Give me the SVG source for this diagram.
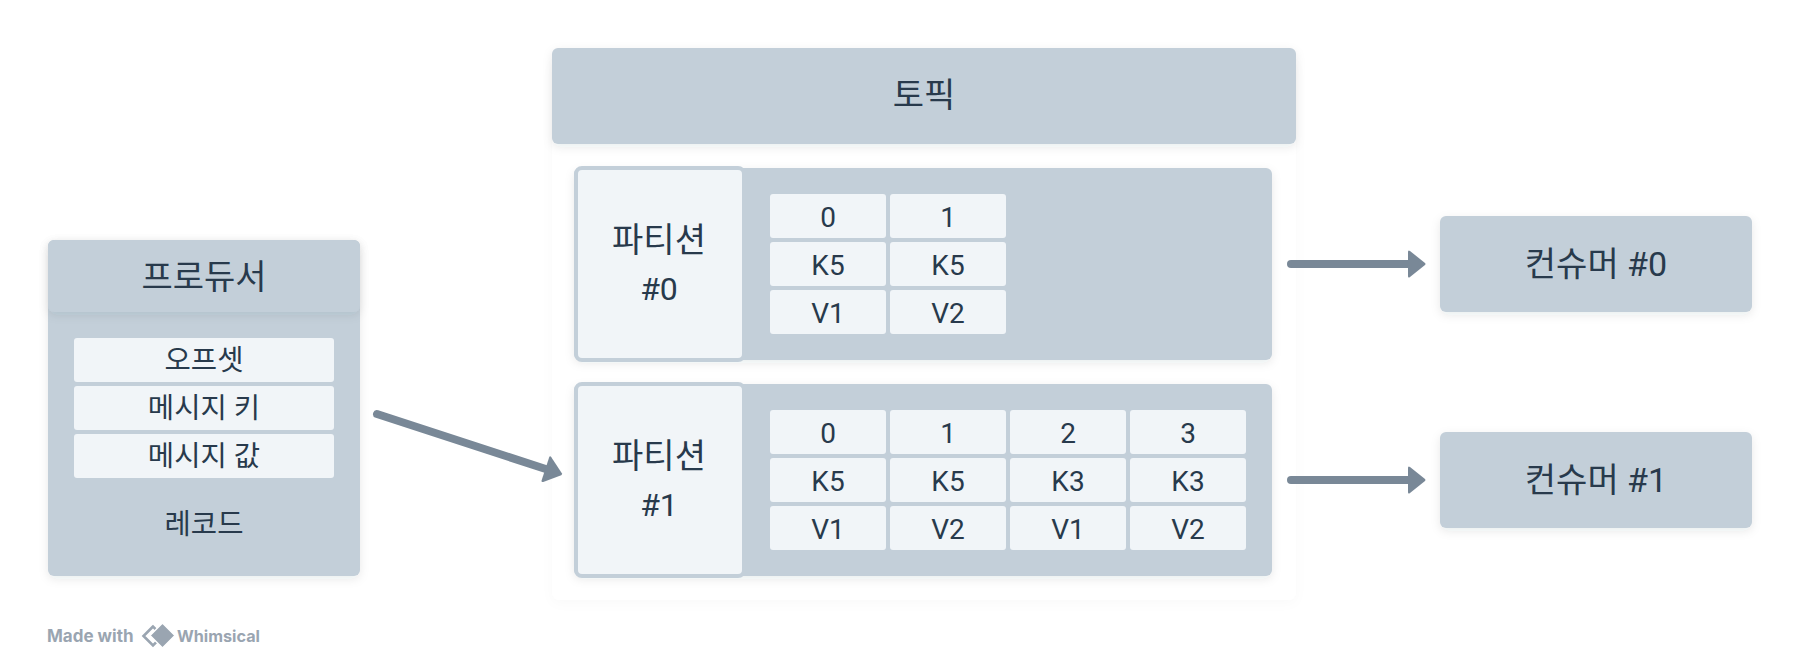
<svg xmlns="http://www.w3.org/2000/svg" width="1800" height="672" viewBox="0 0 1800 672">
<defs>
<filter id="sh" x="-10%" y="-20%" width="120%" height="140%"><feDropShadow dx="0" dy="3" stdDeviation="5" flood-color="#1f2933" flood-opacity="0.09"/></filter>
<filter id="shf" x="-10%" y="-10%" width="120%" height="120%"><feDropShadow dx="0" dy="3" stdDeviation="6" flood-color="#1f2933" flood-opacity="0.025"/></filter>
<path id="head" d="M-18 -12 Q-18 -14.500 -16 -13 L-1 -1 Q0 0 -1 1 L-16 13 Q-18 14.500 -18 12Z" fill="#798897"/>
</defs>
<style>
text{font-family:Roboto,"Noto Sans CJK KR",sans-serif;fill:#283A4C;text-anchor:middle;dominant-baseline:central}
.p{fill:#C3CFD9}.l{fill:#F1F5F8}
.b{font-size:34px}.k{font-size:28.600px}.s{font-size:28px}.n{font-size:32px}
.c{fill:none;stroke:#798897;stroke-width:8;stroke-linecap:round}
.f{font-family:Inter,sans-serif;font-weight:700;fill:#9AA5B1;text-anchor:start}
</style>
<rect width="1800" height="672" fill="#fff"/>
<g id="topic-frame"><rect x="552" y="60" width="744" height="540" rx="8" fill="#fff" filter="url(#shf)"/></g>
<g id="topic"><rect class="p" x="552" y="48" width="744" height="96" rx="6" filter="url(#sh)"/><text class="b" x="924" y="95">토픽</text></g>
<g id="producer">
<rect class="p" x="48" y="240" width="312" height="336" rx="6" filter="url(#sh)"/>
<rect class="p" x="48" y="240" width="312" height="72" rx="6" filter="url(#sh)"/>
<text class="b" x="204" y="276.500">프로듀서</text>
<rect class="l" x="74" y="338" width="260" height="44" rx="3"/><text class="k" x="204" y="360">오프셋</text>
<rect class="l" x="74" y="386" width="260" height="44" rx="3"/><text class="k" x="204" y="408">메시지 키</text>
<rect class="l" x="74" y="434" width="260" height="44" rx="3"/><text class="k" x="204" y="456">메시지 값</text>
<text class="k" x="204" y="524">레코드</text>
</g>
<g id="partition-0">
<rect class="p" x="574" y="168" width="698" height="192" rx="6" filter="url(#sh)"/>
<rect class="l" x="576" y="168" width="168" height="192" rx="6" stroke="#C3CFD9" stroke-width="4"/>
<text class="b" x="659" y="240">파티션</text><text class="n" x="659" y="288.500">#0</text>
<rect class="l" x="770" y="194" width="116" height="44" rx="3"/><text class="s" x="828" y="217">0</text>
<rect class="l" x="890" y="194" width="116" height="44" rx="3"/><text class="s" x="948" y="217">1</text>
<rect class="l" x="770" y="242" width="116" height="44" rx="3"/><text class="s" x="828" y="265">K5</text>
<rect class="l" x="890" y="242" width="116" height="44" rx="3"/><text class="s" x="948" y="265">K5</text>
<rect class="l" x="770" y="290" width="116" height="44" rx="3"/><text class="s" x="828" y="313">V1</text>
<rect class="l" x="890" y="290" width="116" height="44" rx="3"/><text class="s" x="948" y="313">V2</text>
</g>
<g id="partition-1">
<rect class="p" x="574" y="384" width="698" height="192" rx="6" filter="url(#sh)"/>
<rect class="l" x="576" y="384" width="168" height="192" rx="6" stroke="#C3CFD9" stroke-width="4"/>
<text class="b" x="659" y="456">파티션</text><text class="n" x="659" y="504.500">#1</text>
<rect class="l" x="770" y="410" width="116" height="44" rx="3"/><text class="s" x="828" y="433">0</text>
<rect class="l" x="890" y="410" width="116" height="44" rx="3"/><text class="s" x="948" y="433">1</text>
<rect class="l" x="1010" y="410" width="116" height="44" rx="3"/><text class="s" x="1068" y="433">2</text>
<rect class="l" x="1130" y="410" width="116" height="44" rx="3"/><text class="s" x="1188" y="433">3</text>
<rect class="l" x="770" y="458" width="116" height="44" rx="3"/><text class="s" x="828" y="481">K5</text>
<rect class="l" x="890" y="458" width="116" height="44" rx="3"/><text class="s" x="948" y="481">K5</text>
<rect class="l" x="1010" y="458" width="116" height="44" rx="3"/><text class="s" x="1068" y="481">K3</text>
<rect class="l" x="1130" y="458" width="116" height="44" rx="3"/><text class="s" x="1188" y="481">K3</text>
<rect class="l" x="770" y="506" width="116" height="44" rx="3"/><text class="s" x="828" y="529">V1</text>
<rect class="l" x="890" y="506" width="116" height="44" rx="3"/><text class="s" x="948" y="529">V2</text>
<rect class="l" x="1010" y="506" width="116" height="44" rx="3"/><text class="s" x="1068" y="529">V1</text>
<rect class="l" x="1130" y="506" width="116" height="44" rx="3"/><text class="s" x="1188" y="529">V2</text>
</g>
<g id="consumer-0"><rect class="p" x="1440" y="216" width="312" height="96" rx="6" filter="url(#sh)"/><text class="b" x="1596" y="264">컨슈머 #0</text></g>
<g id="consumer-1"><rect class="p" x="1440" y="432" width="312" height="96" rx="6" filter="url(#sh)"/><text class="b" x="1596" y="480">컨슈머 #1</text></g>
<g id="connectors">
<path class="c" d="M377 414 L548 469.800"/><use href="#head" transform="translate(562.500 474.500) rotate(18.060)"/>
<path class="c" d="M1291 264H1412"/><use href="#head" transform="translate(1426 264)"/>
<path class="c" d="M1291 480H1412"/><use href="#head" transform="translate(1426 480)"/>
</g>
<g id="footer">
<text class="f" font-size="17" x="47" y="636">Made with</text>
<path d="M153 626.500 L143.500 636 L153 645.500 L162.500 636Z" fill="none" stroke="#9AA5B1" stroke-width="2.600"/>
<path d="M162.500 623 L175 635.500 L162.500 648 L150 635.500Z" fill="#9AA5B1" stroke="#fff" stroke-width="1.500"/>
<text class="f" font-size="16.200" x="177" y="636">Whimsical</text>
</g>
</svg>
